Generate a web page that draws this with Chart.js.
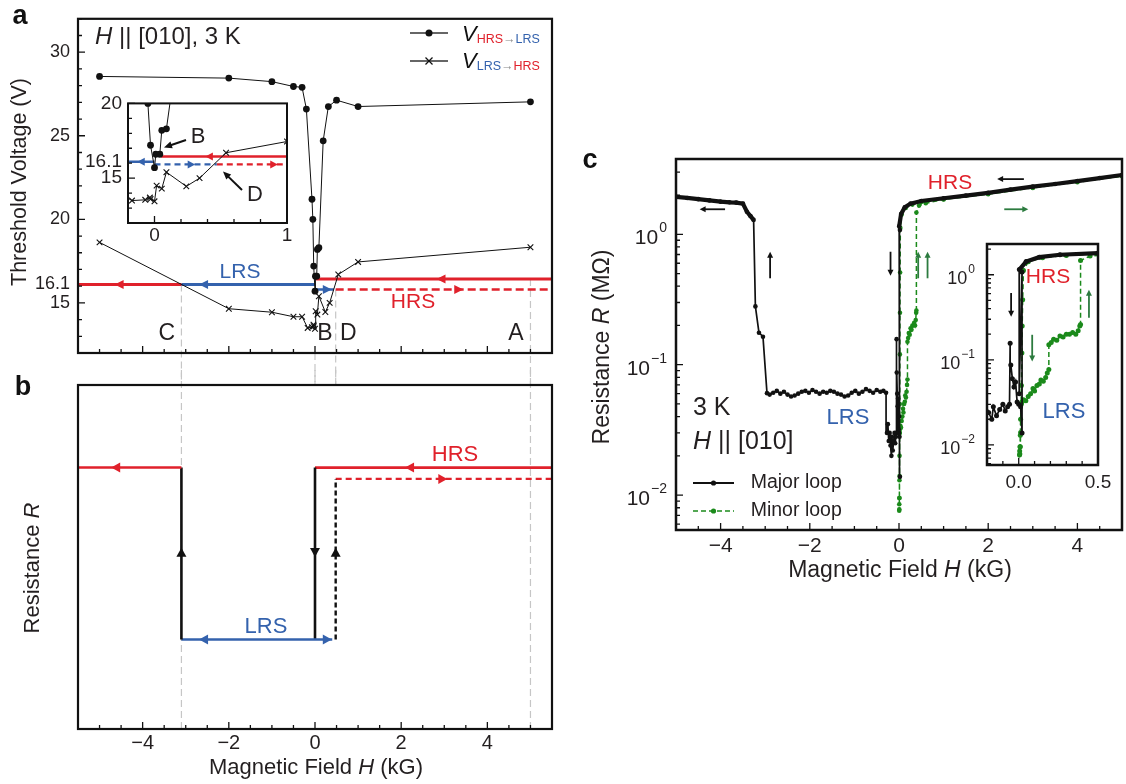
<!DOCTYPE html>
<html>
<head>
<meta charset="utf-8">
<script src="https://cdn.jsdelivr.net/npm/chart.js@4.4.1/dist/chart.umd.min.js"></script>
<style>
  body { margin: 0; background: #fff; }
  #fig { position: relative; width: 1126px; height: 784px; overflow: hidden; }
  #fig canvas { position: absolute; }
</style>
</head>
<body>
<div id="fig">
  <canvas id="ca" width="560" height="386" style="left:0px;top:0px"></canvas>
  <canvas id="cb" width="560" height="414" style="left:0px;top:370px"></canvas>
  <canvas id="cai" width="222" height="160" style="left:78px;top:86px"></canvas>
  <canvas id="cc" width="546" height="460" style="left:580px;top:140px"></canvas>
  <canvas id="cci" width="195" height="275" style="left:925px;top:230px"></canvas>
</div>
<script>
const FONT = "'Liberation Sans', Arial, Helvetica, sans-serif";
const RED = "#e0212b";
const BLUE = "#3462ad";
const GREEN = "#1b8a1b";
const GREEN_ARROW = "#2c7b3f";
const INK = "#231f20";
const GUIDE = "#c6c6c6";

// ---- panel a : threshold voltage vs field ----
const fieldA1 = [-5, -2, -1, -0.5, -0.3, -0.2, -0.07, -0.05, -0.03, 0, 0.01, 0.04, 0.055, 0.09, 0.19, 0.31, 0.5, 1, 5];
const voltA1 = [28.55, 28.45, 28.24, 27.95, 27.9, 26.6, 21.2, 20.0, 17.2, 15.7, 16.6, 16.6, 18.2, 18.3, 24.7, 26.75, 27.13, 26.75, 27.03];
const fieldA2 = [-5, -2, -1, -0.5, -0.3, -0.17, -0.07, -0.035, -0.03, 0, 0.016, 0.055, 0.09, 0.24, 0.34, 0.54, 1, 5];
const voltA2 = [18.62, 14.65, 14.44, 14.17, 14.17, 13.5, 13.55, 13.7, 13.6, 13.45, 14.5, 14.3, 15.4, 14.45, 15.0, 16.7, 17.45, 18.33];

// switching points C, B, D, A (kG)
const switchNames = ["C", "B", "D", "A"];
const switchField = [-3.1, 0, 0.48, 5];
// working voltage levels drawn as state lines (V)
const vWork = 16.1;
const vWorkHi = 16.43;
const vWorkLo = 15.8;
const vInsetHi = 16.45;
const vInsetLo = 15.92;

const aYTicks = [15, 16.1, 20, 25, 30];
const aXTicks = [-4, -2, 0, 2, 4];
const insetAYTicks = [15, 16.1, 20];
const insetAXTicks = [0, 1];

// ---- panel b : schematic resistance levels ----
const rHrs = 7.6;
const rHrsMinor = 7.27;
const rLrs = 2.6;
const bXTicks = [-4, -2, 0, 2, 4];

// ---- panel c : R(H) loops ----
const fieldMajor = [5.0, 4.5, 4.0, 3.5, 3.0, 2.5, 2.0, 1.5, 1.0, 0.5,
  0.26, 0.13, 0.047, 0.004, 0.003, 0.021, 0.021, 0.012, 0.0, -0.01,
  -0.02, -0.03, -0.04, -0.05, -0.054, -0.058, -0.07, -0.085, -0.1, -0.12,
  -0.14, -0.16, -0.17, -0.19, -0.21, -0.23, -0.25, -0.27, -0.29,
  -0.35, -0.42, -0.5, -0.58, -0.66, -0.74, -0.82, -0.9, -0.98, -1.06,
  -1.14, -1.22, -1.3, -1.38, -1.46, -1.54, -1.62, -1.7, -1.78, -1.86,
  -1.94, -2.02, -2.1, -2.18, -2.26, -2.34, -2.42, -2.5, -2.58, -2.66,
  -2.74, -2.82, -2.9, -2.96,
  -3.05, -3.14, -3.22, -3.26, -3.33, -3.41, -3.5, -3.65, -3.8, -4.0, -4.25, -4.5, -4.75, -5.0];
const resMajor = [2.85, 2.7, 2.56, 2.43, 2.32, 2.2, 2.08, 1.98, 1.89, 1.8,
  1.72, 1.61, 1.43, 1.15, 0.04, 1.08, 0.0138, 0.028, 0.03, 0.032,
  0.055, 0.048, 0.06, 0.087, 0.157, 0.03, 0.028, 0.025, 0.03, 0.026,
  0.022, 0.028, 0.02, 0.024, 0.03, 0.026, 0.035, 0.03, 0.061,
  0.063, 0.062, 0.064, 0.061, 0.063, 0.065, 0.062, 0.06, 0.063, 0.061,
  0.058, 0.057, 0.059, 0.06, 0.062, 0.063, 0.061, 0.062, 0.06, 0.062,
  0.064, 0.061, 0.063, 0.062, 0.06, 0.058, 0.057, 0.059, 0.062, 0.06,
  0.063, 0.061, 0.059, 0.0605,
  0.164, 0.176, 0.28, 1.29, 1.38, 1.49, 1.72, 1.75, 1.76, 1.78, 1.82, 1.86, 1.9, 1.94];
const fieldMinor = [5.0, 4.0, 3.0, 2.0, 1.0, 0.5, 0.3, 0.15, 0.06, 0.03,
  0.025, 0.022, 0.02, 0.017, 0.015, 0.012, 0.01, 0.008, 0.006, 0.005,
  0.007, 0.01, 0.012, 0.015, 0.02, 0.03, 0.045, 0.06, 0.075, 0.09,
  0.1, 0.115, 0.13, 0.14, 0.155, 0.17, 0.18, 0.19, 0.19, 0.205,
  0.22, 0.24, 0.26, 0.28, 0.3, 0.32, 0.34, 0.36, 0.375, 0.385,
  0.39, 0.39, 0.45, 0.6, 1.0, 2.0, 3.0, 4.0, 5.0];
const resMinor = [2.8, 2.53, 2.29, 2.05, 1.86, 1.77, 1.69, 1.59, 1.42, 1.12,
  0.51, 0.25, 0.12, 0.05, 0.03, 0.02, 0.013, 0.0095, 0.0085, 0.0076,
  0.0078, 0.0095, 0.014, 0.03, 0.032, 0.034, 0.033, 0.037, 0.04, 0.046,
  0.043, 0.05, 0.052, 0.058, 0.056, 0.062, 0.07, 0.077, 0.15, 0.16,
  0.175, 0.17, 0.19, 0.185, 0.2, 0.2, 0.21, 0.2, 0.22, 0.25,
  0.26, 1.47, 1.66, 1.73, 1.85, 2.03, 2.27, 2.51, 2.79];

const cXTicks = [-4, -2, 0, 2, 4];
const cYTicks = [1, 0.1, 0.01];
const cYExp = ["0", "\u22121", "\u22122"];
const insetCXTicks = [0, 0.5];

// ---------- helpers ----------
const pts = (xs, ys) => xs.map((x, i) => ({ x: x, y: ys[i] }));
const hseg = (x1, x2, y) => [{ x: x1, y: y }, { x: x2, y: y }];
const vseg = (x, y1, y2) => [{ x: x, y: y1 }, { x: x, y: y2 }];
const t = (s, size, color, ex) => Object.assign({ t: s, s: size, c: color || INK }, ex || {});
const minus = (v) => (v < 0 ? "\u2212" + Math.abs(v) : String(v));

function lineSet(data, color, width, dash) {
  return { data: data, showLine: true, borderColor: color, borderWidth: width,
    borderDash: dash || [], pointRadius: 0, borderCapStyle: "butt" };
}

function fontOf(p) {
  return (p.i ? "italic " : "") + (p.b ? "bold " : "") + p.s + "px " + FONT;
}

function richText(ctx, parts, x, y, align, rot) {
  ctx.save();
  ctx.translate(x, y);
  if (rot) ctx.rotate(rot);
  ctx.textBaseline = "middle";
  ctx.textAlign = "left";
  let w = 0;
  parts.forEach((p) => { ctx.font = fontOf(p); p._w = ctx.measureText(p.t).width; w += p._w; });
  let cx = align === "center" ? -w / 2 : align === "right" ? -w : 0;
  parts.forEach((p) => {
    ctx.font = fontOf(p);
    ctx.fillStyle = p.c;
    ctx.fillText(p.t, cx, p.dy || 0);
    cx += p._w;
  });
  ctx.restore();
}

function head(ctx, X, Y, ang, L, W, c) {
  ctx.save();
  ctx.translate(X, Y);
  ctx.rotate(ang);
  ctx.fillStyle = c;
  ctx.beginPath();
  ctx.moveTo(0, 0);
  ctx.lineTo(-L, -W);
  ctx.lineTo(-L, W);
  ctx.closePath();
  ctx.fill();
  ctx.restore();
}

const DIRS = { right: 0, left: Math.PI, up: -Math.PI / 2, down: Math.PI / 2 };

function drawFrame(chart, f) {
  const ctx = chart.ctx, a = chart.chartArea, xs = chart.scales.x, ys = chart.scales.y;
  ctx.save();
  ctx.strokeStyle = "#111";
  ctx.lineWidth = 1.3;
  ctx.beginPath();
  if (f.xMinor) {
    for (let i = Math.ceil(xs.min / f.xMinor - 1e-6); i * f.xMinor <= xs.max + 1e-6; i++) {
      const v = i * f.xMinor, X = xs.getPixelForValue(v);
      const big = Math.abs(v / f.xMajor - Math.round(v / f.xMajor)) < 1e-6;
      ctx.moveTo(X, a.bottom);
      ctx.lineTo(X, a.bottom - (big ? 7 : 4));
    }
  }
  if (f.yLog) {
    for (let d = Math.floor(Math.log10(ys.min)); d <= Math.ceil(Math.log10(ys.max)); d++) {
      for (let m = 1; m < 10; m++) {
        const v = m * Math.pow(10, d);
        if (v <= ys.min || v >= ys.max) continue;
        const Y = ys.getPixelForValue(v);
        ctx.moveTo(a.left, Y);
        ctx.lineTo(a.left + (m === 1 ? 7 : 4), Y);
      }
    }
  } else if (f.yMinor) {
    for (let i = Math.ceil(ys.min / f.yMinor - 1e-6); i * f.yMinor <= ys.max + 1e-6; i++) {
      const v = i * f.yMinor, Y = ys.getPixelForValue(v);
      const big = Math.abs(v / f.yMajor - Math.round(v / f.yMajor)) < 1e-6;
      ctx.moveTo(a.left, Y);
      ctx.lineTo(a.left + (big ? 7 : 4), Y);
    }
  }
  ctx.stroke();
  ctx.lineWidth = f.lw;
  ctx.strokeRect(a.left, a.top, a.width, a.height);
  ctx.restore();
}

// decorations per canvas (keyed by canvas id)
const decos = {};

const decoPlugin = {
  id: "deco",
  beforeDraw(chart) {
    const o = decos[chart.canvas.id];
    if (!o || !o.fill) return;
    const a = chart.chartArea, ctx = chart.ctx;
    ctx.save();
    ctx.fillStyle = "#fff";
    ctx.fillRect(a.left, a.top, a.width, a.height);
    ctx.restore();
  },
  beforeDatasetsDraw(chart) {
    const o = decos[chart.canvas.id];
    if (!o) return;
    const ctx = chart.ctx, a = chart.chartArea, xs = chart.scales.x, ys = chart.scales.y;
    const yy = (v) => v === "ctop" ? 0 : v === "cbot" ? chart.height : v === "atop" ? a.top : v === "abot" ? a.bottom : ys.getPixelForValue(v);
    (o.guides || []).forEach((g) => {
      const X = xs.getPixelForValue(g.x);
      ctx.save();
      ctx.strokeStyle = GUIDE;
      ctx.lineWidth = 1.2;
      ctx.setLineDash([7, 4]);
      ctx.beginPath();
      ctx.moveTo(X, yy(g.y1));
      ctx.lineTo(X, yy(g.y2));
      ctx.stroke();
      ctx.restore();
    });
  },
  afterDatasetsDraw(chart) {
    const o = decos[chart.canvas.id];
    if (!o) return;
    const ctx = chart.ctx, xs = chart.scales.x, ys = chart.scales.y;
    const P = (it, x, y) => it.abs ? [x - o.off[0], y - o.off[1]] : [xs.getPixelForValue(x), ys.getPixelForValue(y)];
    if (o.frame) drawFrame(chart, o.frame);
    (o.heads || []).forEach((h) => {
      const p = P(h, h.x, h.y);
      head(ctx, p[0], p[1], DIRS[h.dir], h.L || 9, h.W || 4.5, h.c);
    });
    (o.arrows || []).forEach((ar) => {
      const p1 = P(ar, ar.x1, ar.y1), p2 = P(ar, ar.x2, ar.y2);
      const ang = Math.atan2(p2[1] - p1[1], p2[0] - p1[0]);
      const L = ar.L || 6;
      ctx.save();
      ctx.strokeStyle = ar.c;
      ctx.lineWidth = ar.lw || 1.8;
      ctx.beginPath();
      ctx.moveTo(p1[0], p1[1]);
      ctx.lineTo(p2[0] - Math.cos(ang) * (L - 1), p2[1] - Math.sin(ang) * (L - 1));
      ctx.stroke();
      ctx.restore();
      head(ctx, p2[0], p2[1], ang, L, ar.W || 3, ar.c);
    });
    (o.lines || []).forEach((ln) => {
      ctx.save();
      ctx.strokeStyle = ln.c;
      ctx.lineWidth = ln.lw;
      ctx.setLineDash(ln.dash || []);
      ctx.beginPath();
      ln.pts.forEach((q, i) => {
        const p = P(ln, q[0], q[1]);
        if (i === 0) ctx.moveTo(p[0], p[1]); else ctx.lineTo(p[0], p[1]);
      });
      ctx.stroke();
      ctx.restore();
    });
    (o.dots || []).forEach((d) => {
      const p = P(d, d.x, d.y);
      ctx.save();
      ctx.fillStyle = d.c;
      ctx.beginPath();
      ctx.arc(p[0], p[1], d.r, 0, Math.PI * 2);
      ctx.fill();
      ctx.restore();
    });
    if (o.logLabels) {
      const L = o.logLabels, right = L.right - o.off[0];
      L.vals.forEach((v, i) => {
        const Y = ys.getPixelForValue(v);
        ctx.save();
        ctx.font = L.ss + "px " + FONT;
        const we = ctx.measureText(L.exps[i]).width;
        ctx.fillStyle = INK;
        ctx.textBaseline = "middle";
        ctx.textAlign = "right";
        ctx.fillText(L.exps[i], right, Y + L.dy2);
        ctx.font = L.s + "px " + FONT;
        ctx.fillText("10", right - we - 1, Y + L.dy1);
        ctx.restore();
      });
    }
    (o.texts || []).forEach((tx) => {
      const p = P(tx, tx.x, tx.y);
      richText(ctx, tx.parts, p[0], p[1], tx.align || "center", tx.rot || 0);
    });
  }
};
Chart.register(decoPlugin);

function makeChart(id, datasets, cfg) {
  const fixTicks = (vals) => (s) => { s.ticks = vals.map((v) => ({ value: v })); };
  const axis = (range, type, ticks, show, pad, size, fmt, fit) => ({
    type: type, min: range[0], max: range[1],
    grid: { display: false, drawTicks: false },
    border: { display: false },
    ticks: { display: show, padding: pad, color: INK, autoSkip: false, maxRotation: 0, minRotation: 0,
      font: { family: FONT, size: size }, callback: fmt },
    afterBuildTicks: fixTicks(ticks),
    afterFit: fit
  });
  return new Chart(document.getElementById(id), {
    type: "scatter",
    data: { datasets: datasets },
    options: {
      responsive: false,
      animation: false,
      devicePixelRatio: 1,
      events: [],
      layout: { padding: cfg.pad },
      plugins: { legend: { display: false }, tooltip: { enabled: false } },
      scales: {
        x: axis(cfg.x, "linear", cfg.xTicks, cfg.xShow, cfg.xPad || 0, cfg.xFont || 18, cfg.xFmt || minus,
          (s) => { s.height = cfg.xH; }),
        y: axis(cfg.y, cfg.yLog ? "logarithmic" : "linear", cfg.yTicks, cfg.yShow, cfg.yPad || 0, cfg.yFont || 18,
          (v) => String(v), (s) => { s.width = cfg.yW; })
      }
    }
  });
}

// ================= panel a =================
const C = switchField[0], B = switchField[1], D = switchField[2], A = switchField[3];
const circleSet = (r) => ({ data: pts(fieldA1, voltA1), showLine: true, borderColor: "#111", borderWidth: 1,
  pointStyle: "circle", pointRadius: r, pointBackgroundColor: "#111", pointBorderWidth: 0 });
const crossSet = (r) => ({ data: pts(fieldA2, voltA2), showLine: true, borderColor: "#111", borderWidth: 1,
  pointStyle: "crossRot", pointRadius: r, pointBorderColor: "#111", pointBorderWidth: 1.1 });

decos.ca = {
  off: [0, 0],
  frame: { xMinor: 0.5, xMajor: 2, yMinor: 1, yMajor: 5, lw: 2.2 },
  guides: [
    { x: C, y1: vWork, y2: "cbot" },
    { x: A, y1: vWorkHi, y2: "cbot" },
    { x: D, y1: vWorkLo, y2: "cbot" },
    { x: B, y1: "abot", y2: "cbot" }
  ],
  heads: [
    { x: -4.65, y: vWork, dir: "left", c: RED },
    { x: -2.69, y: vWork, dir: "left", c: BLUE },
    { x: 2.82, y: vWorkHi, dir: "left", c: RED },
    { x: 0.39, y: vWorkLo, dir: "right", c: BLUE },
    { x: 3.44, y: vWorkLo, dir: "right", c: RED }
  ],
  lines: [
    { abs: 1, pts: [[410, 33], [448, 33]], c: "#666", lw: 2 },
    { abs: 1, pts: [[410, 61], [448, 61]], c: "#666", lw: 2 },
    { abs: 1, pts: [[425.5, 57.5], [432.5, 64.5]], c: "#111", lw: 1.2 },
    { abs: 1, pts: [[425.5, 64.5], [432.5, 57.5]], c: "#111", lw: 1.2 }
  ],
  dots: [{ abs: 1, x: 429, y: 33, r: 3.5, c: "#111" }],
  texts: [
    { abs: 1, x: 20, y: 17, parts: [t("a", 27, "#111", { b: 1 })] },
    { abs: 1, x: 20, y: 182, rot: -Math.PI / 2, parts: [t("Threshold Voltage (V)", 21.5)] },
    { abs: 1, x: 95, y: 37, align: "left", parts: [t("H", 24, INK, { i: 1 }), t(" || [010], 3 K", 24)] },
    { abs: 1, x: 462, y: 35, align: "left", parts: [t("V", 22, "#111", { i: 1 }),
      t("HRS", 12.5, RED, { dy: 5 }), t("\u2192", 12.5, "#888", { dy: 5 }), t("LRS", 12.5, BLUE, { dy: 5 })] },
    { abs: 1, x: 462, y: 62, align: "left", parts: [t("V", 22, "#111", { i: 1 }),
      t("LRS", 12.5, BLUE, { dy: 4.5 }), t("\u2192", 12.5, "#888", { dy: 4.5 }), t("HRS", 12.5, RED, { dy: 4.5 })] },
    { abs: 1, x: 166.7, y: 334, parts: [t(switchNames[0], 23)] },
    { abs: 1, x: 325, y: 334, parts: [t(switchNames[1], 23)] },
    { abs: 1, x: 348.3, y: 334, parts: [t(switchNames[2], 23)] },
    { abs: 1, x: 516, y: 334, parts: [t(switchNames[3], 23)] },
    { abs: 1, x: 240, y: 272, parts: [t("LRS", 21, BLUE)] },
    { abs: 1, x: 413, y: 302, parts: [t("HRS", 21, RED)] }
  ]
};

makeChart("ca", [
  circleSet(3.4),
  crossSet(4),
  lineSet(hseg(-5.5, C, vWork), RED, 3),
  lineSet(hseg(C, B, vWork), BLUE, 3),
  lineSet(hseg(0.02, 5.5, vWorkHi), RED, 3),
  lineSet(hseg(B, 0.44, vWorkLo), BLUE, 2.6),
  lineSet(hseg(D, 5.5, vWorkLo), RED, 2.4, [8, 4])
], {
  x: [-5.5, 5.5], y: [12, 32], xTicks: aXTicks, yTicks: aYTicks, xShow: false, yShow: true,
  yPad: 8, yFont: 18, yW: 78, xH: 33, pad: { left: 0, top: 10, right: 8, bottom: 0 }
});

// ---- inset of panel a ----
decos.cai = {
  off: [78, 86],
  fill: true,
  frame: { xMinor: 0.2, xMajor: 1, yMinor: 1, yMajor: 5, lw: 2 },
  heads: [
    { x: 0.384, y: vInsetHi, dir: "left", c: RED, L: 7.5, W: 4 },
    { x: -0.13, y: vWork, dir: "left", c: BLUE, L: 7.5, W: 4 },
    { x: 0.307, y: vInsetLo, dir: "right", c: BLUE, L: 7.5, W: 4 },
    { x: 0.93, y: vInsetLo, dir: "right", c: RED, L: 7.5, W: 4 }
  ],
  arrows: [
    { abs: 1, x1: 186, y1: 140, x2: 164, y2: 147.5, c: "#111", lw: 2, L: 8, W: 3.5 },
    { abs: 1, x1: 242, y1: 190, x2: 223, y2: 171.5, c: "#111", lw: 2, L: 8, W: 3.5 }
  ],
  texts: [
    { abs: 1, x: 198, y: 137, parts: [t("B", 22)] },
    { abs: 1, x: 255, y: 195, parts: [t("D", 22)] }
  ]
};

makeChart("cai", [
  circleSet(3.4),
  crossSet(4),
  lineSet(hseg(0.05, 1.0, vInsetHi), RED, 2.6),
  lineSet(hseg(-0.2, 0, vWork), BLUE, 2.6),
  lineSet(hseg(0, 0.47, vInsetLo), BLUE, 2.4, [6, 4]),
  lineSet(hseg(0.47, 1.0, vInsetLo), RED, 2.4, [6, 4])
], {
  x: [-0.2, 1], y: [12, 20], xTicks: insetAXTicks, yTicks: insetAYTicks, xShow: true, yShow: true,
  xPad: 1, xFont: 19, yPad: 6, yFont: 19, yW: 50, xH: 23, pad: { left: 0, top: 13, right: 13, bottom: 0 }
});

// ================= panel b =================
decos.cb = {
  off: [0, 370],
  frame: { xMinor: 0.5, xMajor: 2, lw: 2.2 },
  guides: [
    { x: C, y1: "ctop", y2: "abot" },
    { x: A, y1: "ctop", y2: "abot" },
    { x: B, y1: "ctop", y2: "atop" },
    { x: D, y1: "ctop", y2: "atop" }
  ],
  heads: [
    { x: -4.73, y: rHrs, dir: "left", c: RED, W: 5 },
    { x: -2.69, y: rLrs, dir: "left", c: BLUE, W: 5 },
    { x: 2.09, y: rHrs, dir: "left", c: RED, W: 5 },
    { x: 3.07, y: rHrsMinor, dir: "right", c: RED, W: 5 },
    { x: 0.39, y: rLrs, dir: "right", c: BLUE, W: 5 },
    { x: C, y: 5.27, dir: "up", c: "#111", W: 5 },
    { x: B, y: 5.0, dir: "down", c: "#111", W: 5 },
    { x: D, y: 5.27, dir: "up", c: "#111", W: 5 }
  ],
  texts: [
    { abs: 1, x: 23, y: 388, parts: [t("b", 27, "#111", { b: 1 })] },
    { abs: 1, x: 33, y: 568, rot: -Math.PI / 2, parts: [t("Resistance ", 22), t("R", 22, INK, { i: 1 })] },
    { abs: 1, x: 316, y: 768, parts: [t("Magnetic Field ", 22), t("H", 22, INK, { i: 1 }), t(" (kG)", 22)] },
    { abs: 1, x: 455, y: 455, parts: [t("HRS", 22, RED)] },
    { abs: 1, x: 266, y: 627, parts: [t("LRS", 22, BLUE)] }
  ]
};

makeChart("cb", [
  lineSet(hseg(-5.5, C, rHrs), RED, 2.6),
  lineSet(vseg(C, rHrs, rLrs), "#111", 2.6),
  lineSet(hseg(C, 0.4, rLrs), BLUE, 2.6),
  lineSet(vseg(B, rHrs, rLrs), "#111", 2.6),
  lineSet(hseg(B, 5.5, rHrs), RED, 2.8),
  lineSet(vseg(D, rLrs, rHrsMinor), "#111", 2.4, [5, 3]),
  lineSet(hseg(D, 5.5, rHrsMinor), RED, 2.4, [6, 4])
], {
  x: [-5.5, 5.5], y: [0, 10], xTicks: bXTicks, yTicks: [0], xShow: true, yShow: false,
  xPad: 2, xFont: 20, yW: 78, xH: 55, pad: { left: 0, top: 15, right: 8, bottom: 0 }
});

// ================= panel c =================
const thick = (w, thin) => (c) => (c.p0.parsed.y > 0.9 && c.p1.parsed.y > 0.9 ? w : thin);
const majorSet = (r, w) => ({ data: pts(fieldMajor, resMajor), showLine: true, borderColor: "#111", borderWidth: 1.6,
  pointRadius: r, pointBackgroundColor: "#111", pointBorderWidth: 0, segment: { borderWidth: thick(w, 1.7) } });
const minorSet = (r) => ({ data: pts(fieldMinor, resMinor), showLine: true, borderColor: GREEN, borderWidth: 1.5,
  borderDash: [5, 3], pointRadius: r, pointBackgroundColor: GREEN, pointBorderWidth: 0 });

decos.cc = {
  off: [580, 140],
  frame: { xMinor: 0.5, xMajor: 2, yLog: true, lw: 2.5 },
  logLabels: { vals: cYTicks, exps: cYExp, right: 667, s: 21, ss: 14, dy1: 4, dy2: -6 },
  arrows: [
    { x1: -3.9, y1: 1.556, x2: -4.47, y2: 1.556, c: "#111" },
    { x1: -2.89, y1: 0.46, x2: -2.89, y2: 0.735, c: "#111" },
    { x1: -0.19, y1: 0.735, x2: -0.19, y2: 0.48, c: "#111" },
    { x1: 2.8, y1: 2.65, x2: 2.2, y2: 2.65, c: "#111" },
    { x1: 2.36, y1: 1.556, x2: 2.9, y2: 1.556, c: GREEN_ARROW },
    { x1: 0.43, y1: 0.46, x2: 0.43, y2: 0.735, c: GREEN_ARROW },
    { x1: 0.64, y1: 0.46, x2: 0.64, y2: 0.735, c: GREEN_ARROW }
  ],
  lines: [
    { abs: 1, pts: [[693, 483], [734, 483]], c: "#111", lw: 2 },
    { abs: 1, pts: [[693, 511], [734, 511]], c: GREEN, lw: 1.6, dash: [5, 3] }
  ],
  dots: [
    { abs: 1, x: 713.5, y: 483, r: 2.6, c: "#111" },
    { abs: 1, x: 713.5, y: 511, r: 2.6, c: GREEN }
  ],
  texts: [
    { abs: 1, x: 590, y: 161, parts: [t("c", 27, "#111", { b: 1 })] },
    { abs: 1, x: 603, y: 347, rot: -Math.PI / 2, parts: [t("Resistance ", 23), t("R", 23, INK, { i: 1 }), t(" (M\u03a9)", 23)] },
    { abs: 1, x: 900, y: 571, parts: [t("Magnetic Field ", 23), t("H", 23, INK, { i: 1 }), t(" (kG)", 23)] },
    { abs: 1, x: 950, y: 183, parts: [t("HRS", 21, RED)] },
    { abs: 1, x: 848, y: 418, parts: [t("LRS", 22, BLUE)] },
    { abs: 1, x: 693, y: 408, align: "left", parts: [t("3 K", 25)] },
    { abs: 1, x: 693, y: 442, align: "left", parts: [t("H", 25, INK, { i: 1 }), t(" || [010]", 25)] },
    { abs: 1, x: 750.7, y: 483, align: "left", parts: [t("Major loop", 19.5)] },
    { abs: 1, x: 750.7, y: 511, align: "left", parts: [t("Minor loop", 19.5)] }
  ]
};

makeChart("cc", [majorSet(2.3, 4.2), minorSet(2.3)], {
  x: [-5, 5], y: [0.0054, 3.78], yLog: true, xTicks: cXTicks, yTicks: cYTicks, xShow: true, yShow: false,
  xPad: 4, xFont: 21, yW: 96, xH: 70, pad: { left: 0, top: 19, right: 1, bottom: 0 }
});

// ---- inset of panel c ----
decos.cci = {
  off: [925, 230],
  fill: true,
  frame: { xMinor: 0.1, xMajor: 0.5, yLog: true, lw: 2.5 },
  logLabels: { vals: cYTicks, exps: cYExp, right: 975, s: 18, ss: 12, dy1: 4.5, dy2: -5 },
  arrows: [
    { x1: -0.048, y1: 0.61, x2: -0.048, y2: 0.32, c: "#111" },
    { x1: 0.085, y1: 0.197, x2: 0.085, y2: 0.0955, c: GREEN_ARROW },
    { x1: 0.443, y1: 0.312, x2: 0.443, y2: 0.667, c: GREEN_ARROW }
  ],
  texts: [
    { abs: 1, x: 1048, y: 277, parts: [t("HRS", 21, RED)] },
    { abs: 1, x: 1064, y: 412, parts: [t("LRS", 22, BLUE)] }
  ]
};

makeChart("cci", [majorSet(2.5, 4.2), minorSet(2.5)], {
  x: [-0.2, 0.5], y: [0.0058, 2.3], yLog: true, xTicks: insetCXTicks, yTicks: cYTicks, xShow: true, yShow: false,
  xPad: 6.5, xFont: 19, xFmt: (v) => v.toFixed(1), yW: 62, xH: 40, pad: { left: 0, top: 14, right: 22, bottom: 0 }
});
</script>
</body>
</html>
